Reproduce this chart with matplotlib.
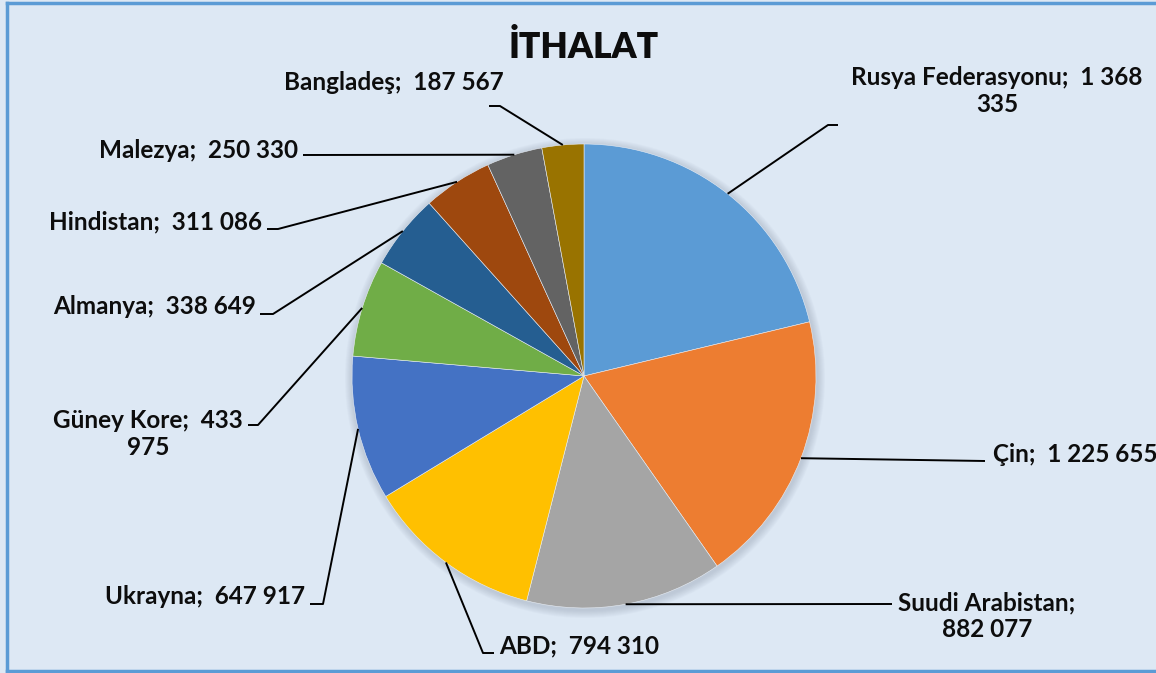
import matplotlib
matplotlib.use('Agg')
import matplotlib.pyplot as plt
from matplotlib.patches import Circle
import numpy as np

countries = ['Rusya Federasyonu', 'Çin', 'Suudi Arabistan', 'ABD', 'Ukrayna',
             'Güney Kore', 'Almanya', 'Hindistan', 'Malezya', 'Bangladeş']
values = [1368335, 1225655, 882077, 794310, 647917,
          433975, 338649, 311086, 250330, 187567]
label_texts = ['Rusya Federasyonu;  1 368\n335', 'Çin;  1 225 655',
               'Suudi Arabistan;\n882 077', 'ABD;  794 310', 'Ukrayna;  647 917',
               'Güney Kore;  433\n975', 'Almanya;  338 649', 'Hindistan;  311 086',
               'Malezya;  250 330', 'Bangladeş;  187 567']
colors = ['#5b9bd5', '#ed7d31', '#a5a5a5', '#ffc000', '#4472c4',
          '#70ad47', '#255e91', '#9e480e', '#636363', '#997300']

W, H = 1156, 673
CX, CY, R = 584, 376, 232
FONT = 'Lato'

# label layout in pixel coords: text pos, ha, elbow, line end
layout = [
    ((997, 91), 'center', (828, 125), (838, 125)),
    ((993, 454), 'left', (985, 461), (985, 461)),
    ((987, 616), 'center', (892, 604), (892, 604)),
    ((499, 646), 'left', (483, 653), (494, 653)),
    ((305, 596), 'right', (323, 604), (310, 604)),
    ((148, 434), 'center', (258, 425), (248, 425)),
    ((256, 307), 'right', (273, 314), (260, 314)),
    ((262, 222), 'right', (278, 229), (267, 229)),
    ((298, 150), 'right', (303, 155), (303, 155)),
    ((504, 83), 'right', (500, 106), (489, 106)),
]

fig = plt.figure(figsize=(W / 100, H / 100), dpi=100)
fig.patch.set_facecolor('white')
ax = fig.add_axes([0, 0, 1, 1])
ax.set_facecolor('#dde8f4')

# soft shadow around the pie
for k in range(8, 0, -1):
    ax.add_patch(Circle((CX + 1, CY + 2), R + k, color='#8a96a8', alpha=0.05,
                        lw=0, zorder=1))

wedges, _ = ax.pie(values, colors=colors, startangle=-90, counterclock=True,
                   center=(CX, CY), radius=R, frame=True,
                   wedgeprops=dict(linewidth=0.4, edgecolor='#e8eef6', zorder=2))

for w, txt, (tpos, ha, elbow, end) in zip(wedges, label_texts, layout):
    mid = np.deg2rad((w.theta1 + w.theta2) / 2)
    px, py = CX + R * np.cos(mid), CY + R * np.sin(mid)
    ax.plot([px, elbow[0], end[0]], [py, elbow[1], end[1]], color='black',
            lw=1.4, zorder=3, solid_capstyle='butt')
    ax.text(tpos[0], tpos[1], txt, ha=ha, va='center', multialignment='center',
            fontsize=17.5, fontweight='bold', family=FONT, color='#0d0d0d',
            linespacing=1.2, zorder=4)

ax.text(584, 47, 'İTHALAT', ha='center', va='center', fontsize=25.5,
        fontweight='heavy', family=FONT, color='#0d0d0d')

# chart border
ax.plot([7, W + 5], [3, 3], color='#5b9bd5', lw=2.5, zorder=5)
ax.plot([7, 7], [3, 671], color='#5b9bd5', lw=2.5, zorder=5)
ax.plot([7, W + 5], [671, 671], color='#5b9bd5', lw=2.5, zorder=5)

ax.set_xlim(0, W)
ax.set_ylim(H, 0)
ax.set_xticks([])
ax.set_yticks([])
for s in ax.spines.values():
    s.set_visible(False)

fig.savefig('out.png', dpi=100, facecolor='white')
